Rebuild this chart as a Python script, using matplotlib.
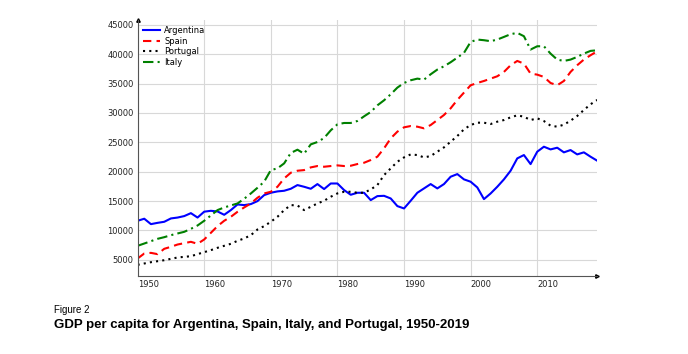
import matplotlib
matplotlib.use("Agg")
import matplotlib.pyplot as plt

years = list(range(1950, 2020))

argentina = [11650, 12000, 11080, 11300, 11480, 12050, 12200, 12450, 12950, 12200,
             13200, 13350, 13240, 12670, 13470, 14430, 14320, 14490, 15000, 16020,
             16420, 16650, 16760, 17100, 17730, 17440, 17100, 17900, 17050, 18000,
             18000, 16880, 16080, 16420, 16420, 15170, 15850, 15900, 15450, 14150,
             13750, 15060, 16420, 17160, 17900, 17160, 17900, 19150, 19600, 18700,
             18300, 17330, 15340, 16300, 17440, 18700, 20170, 22270, 22840, 21300,
             23410, 24260, 23800, 24090, 23300, 23690, 22950, 23300, 22560, 21880]

spain = [5230, 6080, 6190, 5970, 6880, 7220, 7610, 7840, 8070, 7730,
         8470, 9600, 10740, 11650, 12330, 13180, 13920, 14600, 15570, 16300,
         16590, 17440, 18860, 19830, 20170, 20280, 20740, 20970, 20850, 20970,
         21080, 20970, 21020, 21310, 21530, 21990, 22560, 23980, 25680, 26820,
         27560, 27780, 27670, 27390, 27950, 28800, 29660, 30800, 32220, 33470,
         34720, 35110, 35450, 35850, 36250, 36990, 38130, 38860, 38410, 36700,
         36530, 36140, 35110, 34720, 35450, 36990, 38130, 39090, 39830, 40510]

portugal = [4150, 4380, 4600, 4770, 4940, 5170, 5400, 5510, 5620, 5970,
            6310, 6650, 7050, 7390, 7730, 8240, 8640, 9200, 10170, 10740,
            11480, 12330, 13470, 14320, 14260, 13470, 14030, 14600, 15060, 15740,
            16310, 16590, 16590, 16420, 16420, 16990, 17730, 19430, 20570, 21700,
            22440, 22950, 22840, 22440, 22670, 23410, 24150, 25110, 26080, 27220,
            27950, 28350, 28350, 28120, 28520, 28800, 29260, 29600, 29370, 28800,
            29090, 28630, 27840, 27670, 28010, 28690, 29490, 30510, 31480, 32220]

italy = [7390, 7780, 8180, 8580, 8860, 9200, 9490, 9770, 10280, 10850,
         11650, 12560, 13470, 13920, 14260, 14600, 15400, 16300, 17270, 18300,
         20280, 20570, 21420, 23200, 23750, 23070, 24660, 25060, 25740, 27050,
         28070, 28300, 28300, 28640, 29430, 30170, 31300, 32160, 33180, 34320,
         35110, 35570, 35850, 35680, 36590, 37390, 37950, 38640, 39430, 40230,
         42100, 42500, 42390, 42220, 42500, 42950, 43410, 43640, 43070, 40800,
         41360, 41360, 40110, 39090, 38860, 39090, 39550, 40110, 40570, 40680]

xticks = [1950, 1960, 1970, 1980, 1990, 2000, 2010]
yticks = [5000, 10000, 15000, 20000, 25000, 30000, 35000, 40000, 45000]

fig = plt.figure(figsize=(6.88, 3.54), dpi=100)
ax = fig.add_axes([0.2, 0.22, 0.668, 0.723])

ax.plot(years, argentina, color="#0000ff", lw=1.5, ls="-", label="Argentina")
ax.plot(years, spain, color="#ff0000", lw=1.5, ls=(0, (4, 2.5)), label="Spain")
ax.plot(years, portugal, color="black", lw=1.5, ls=(0, (1, 2)), label="Portugal")
ax.plot(years, italy, color="green", lw=1.5, ls=(0, (5, 2, 1, 2)), label="Italy")

ax.set_xlim(1950, 2019)
ax.set_ylim(2230, 45800)
ax.set_xticks(xticks)
ax.set_yticks(yticks)
ax.set_xticklabels([str(t) for t in xticks], ha="left")
ax.tick_params(length=0, labelsize=6, colors="#222222", pad=3)
ax.grid(True, color="#d8d8d8", lw=0.8)
ax.set_axisbelow(True)

for s in ["top", "right"]:
    ax.spines[s].set_visible(False)
for s in ["left", "bottom"]:
    ax.spines[s].set_color("#555555")
    ax.spines[s].set_linewidth(0.8)

# arrowheads at the axis ends
ax.plot(1, 0, ">k", ms=2.5, transform=ax.transAxes, clip_on=False)
ax.plot(0, 1, "^k", ms=2.5, transform=ax.transAxes, clip_on=False)

ax.legend(loc="upper left", frameon=False, fontsize=6, handlelength=2.0,
          handletextpad=0.5, borderaxespad=0.3, labelspacing=0.2)

fig.text(0.079, 0.125, "Figure 2", fontsize=7, family="Liberation Sans", va="center")
fig.text(0.079, 0.083, "GDP per capita for Argentina, Spain, Italy, and Portugal, 1950-2019",
         fontsize=9.5, family="Liberation Sans", weight="bold", va="center")

fig.savefig("out.png", dpi=100)
